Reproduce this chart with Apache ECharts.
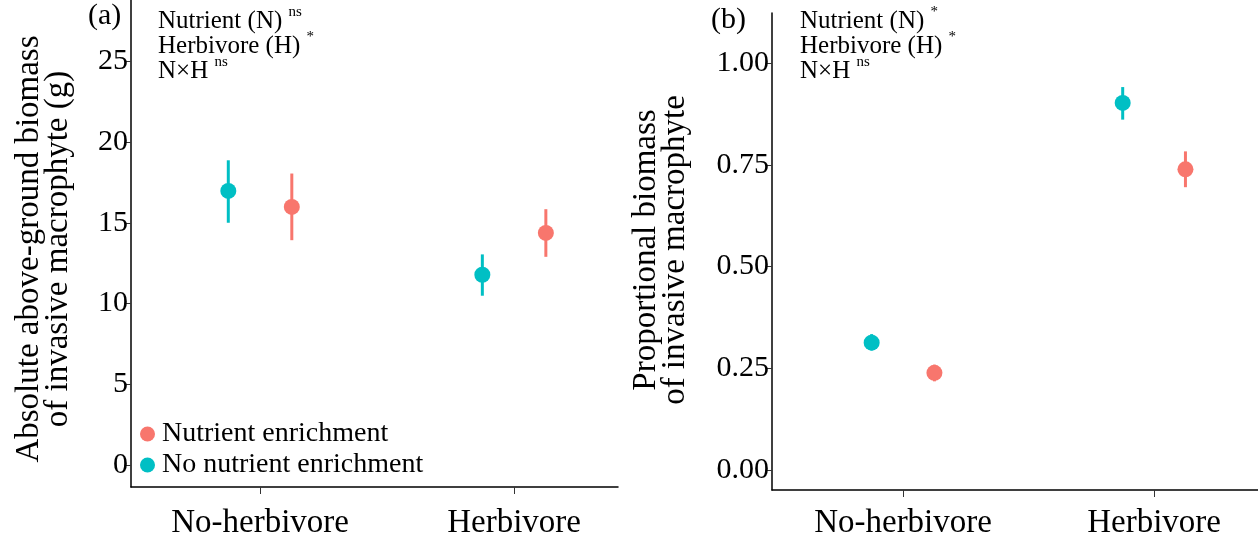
<!DOCTYPE html>
<html>
<head>
<meta charset="utf-8">
<script src="https://cdn.jsdelivr.net/npm/echarts@6/dist/echarts.min.js"></script>
<style>html,body{margin:0;padding:0;background:#fff;}#c{width:1258px;height:542px;}</style>
</head>
<body>
<div id="c"></div>
<script>
const categories = ['No-herbivore', 'Herbivore'];
const groups = ['Nutrient enrichment', 'No nutrient enrichment'];
// Panel (a): absolute above-ground biomass (g)
const absMeanEnr = [15.98, 14.37];
const absLoEnr   = [13.92, 12.89];
const absHiEnr   = [18.05, 15.84];
const absMeanNo  = [16.97, 11.78];
const absLoNo    = [15.00, 10.48];
const absHiNo    = [18.87, 13.04];
// Panel (b): proportional biomass
const propMeanEnr = [0.239, 0.739];
const propLoEnr   = [0.218, 0.695];
const propHiEnr   = [0.259, 0.783];
const propMeanNo  = [0.313, 0.902];
const propLoNo    = [0.294, 0.861];
const propHiNo    = [0.334, 0.941];
const yTicksA = [0, 5, 10, 15, 20, 25];
const yTicksB = [0, 0.25, 0.5, 0.75, 1.0];

const RED = '#F8766D', TEAL = '#00BFC4';
const FONT = 'Liberation Serif';
const DODGE = 0.125;
const catPos = [1, 2];

function pts(means, off) { return means.map((m, i) => [catPos[i] + off, m]); }
function bars(lo, hi, off) { return lo.map((l, i) => [catPos[i] + off, l, hi[i]]); }

function errSeries(data, color, idx) {
  return {
    type: 'custom', xAxisIndex: idx, yAxisIndex: idx, silent: true, z: 2,
    encode: { x: 0, y: [1, 2] },
    data: data,
    renderItem: function (params, api) {
      const x = api.value(0), lo = api.value(1), hi = api.value(2);
      const a = api.coord([x, lo]), b = api.coord([x, hi]);
      return { type: 'line', shape: { x1: a[0], y1: a[1], x2: b[0], y2: b[1] },
               style: { stroke: color, lineWidth: 3 } };
    }
  };
}
function ptSeries(name, data, color, idx) {
  return { type: 'scatter', name: name, xAxisIndex: idx, yAxisIndex: idx, z: 3,
           symbol: 'circle', symbolSize: 16, itemStyle: { color: color, opacity: 1 },
           data: data };
}
function xAx(idx, min, max, margin) {
  return {
    type: 'value', gridIndex: idx, min: min, max: max,
    splitLine: { show: false },
    axisLine: { show: true, onZero: false, lineStyle: { color: '#000', width: 1.5 } },
    axisTick: { show: true, length: 7, customValues: catPos, lineStyle: { color: '#333', width: 1 } },
    axisLabel: { customValues: catPos, fontFamily: FONT, fontSize: 33, color: '#000', margin: margin,
                 formatter: v => categories[Math.round(v) - 1] }
  };
}
function yAx(idx, min, max, ticks, fmt) {
  return {
    type: 'value', gridIndex: idx, min: min, max: max,
    splitLine: { show: false },
    axisLine: { show: true, onZero: false, lineStyle: { color: '#000', width: 1.5 } },
    axisTick: { show: true, length: 6, customValues: ticks, lineStyle: { color: '#333', width: 1 } },
    axisLabel: { customValues: ticks, fontFamily: FONT, fontSize: 30, color: '#000', margin: 3,
                 formatter: fmt }
  };
}

const chart = echarts.init(document.getElementById('c'));
const rich = {
  m: { fontFamily: FONT, fontSize: 25, color: '#000', lineHeight: 25 },
  s: { fontFamily: FONT, fontSize: 15, color: '#000', lineHeight: 25, verticalAlign: 'top', padding: [-4, 0, 0, 0] }
};
chart.setOption({
  animation: false,
  backgroundColor: '#fff',
  grid: [
    { left: 131, top: 0, width: 487, height: 487 },
    { left: 772, top: 13, width: 486, height: 477 }
  ],
  xAxis: [xAx(0, 0.492, 2.409, 20), xAx(1, 0.478, 2.414, 17)],
  yAxis: [
    yAx(0, -1.37, 28.8, yTicksA, v => String(Math.round(v))),
    yAx(1, -0.049, 1.123, yTicksB, v => v.toFixed(2))
  ],
  legend: {
    orient: 'vertical', left: 135, top: 415, itemGap: 3,
    icon: 'circle', itemWidth: 15, itemHeight: 15,
    data: groups,
    textStyle: { fontFamily: FONT, fontSize: 28, color: '#000', lineHeight: 28, padding: [0, 0, 0, 2] }
  },
  series: [
    errSeries(bars(absLoNo, absHiNo, -DODGE), TEAL, 0),
    errSeries(bars(absLoEnr, absHiEnr, DODGE), RED, 0),
    ptSeries(groups[1], pts(absMeanNo, -DODGE), TEAL, 0),
    ptSeries(groups[0], pts(absMeanEnr, DODGE), RED, 0),
    errSeries(bars(propLoNo, propHiNo, -DODGE), TEAL, 1),
    errSeries(bars(propLoEnr, propHiEnr, DODGE), RED, 1),
    ptSeries(groups[1], pts(propMeanNo, -DODGE), TEAL, 1),
    ptSeries(groups[0], pts(propMeanEnr, DODGE), RED, 1)
  ],
  graphic: [
    { type: 'text', left: 88, top: 1, style: { text: '(a)', font: '30px "Liberation Serif"', fill: '#000' } },
    { type: 'text', left: 711, top: 5, style: { text: '(b)', font: '30px "Liberation Serif"', fill: '#000' } },
    { type: 'text', left: 158, top: 5, style: { text: '{m|Nutrient (N) }{s|ns}\n{m|Herbivore (H) }{s|*}\n{m|N×H }{s|ns}', rich: rich } },
    { type: 'text', left: 800, top: 5, style: { text: '{m|Nutrient (N) }{s|*}\n{m|Herbivore (H) }{s|*}\n{m|N×H }{s|ns}', rich: rich } },
    { type: 'text', x: 44, y: 249, rotation: Math.PI / 2,
      style: { text: 'Absolute above-ground biomass\nof invasive macrophyte (g)', font: '33px "Liberation Serif"',
               lineHeight: 29, fill: '#000', align: 'center', verticalAlign: 'middle' } },
    { type: 'text', x: 661, y: 250, rotation: Math.PI / 2,
      style: { text: 'Proportional biomass\nof invasive macrophyte', font: '33px "Liberation Serif"',
               lineHeight: 29, fill: '#000', align: 'center', verticalAlign: 'middle' } }
  ]
});
</script>
</body>
</html>
